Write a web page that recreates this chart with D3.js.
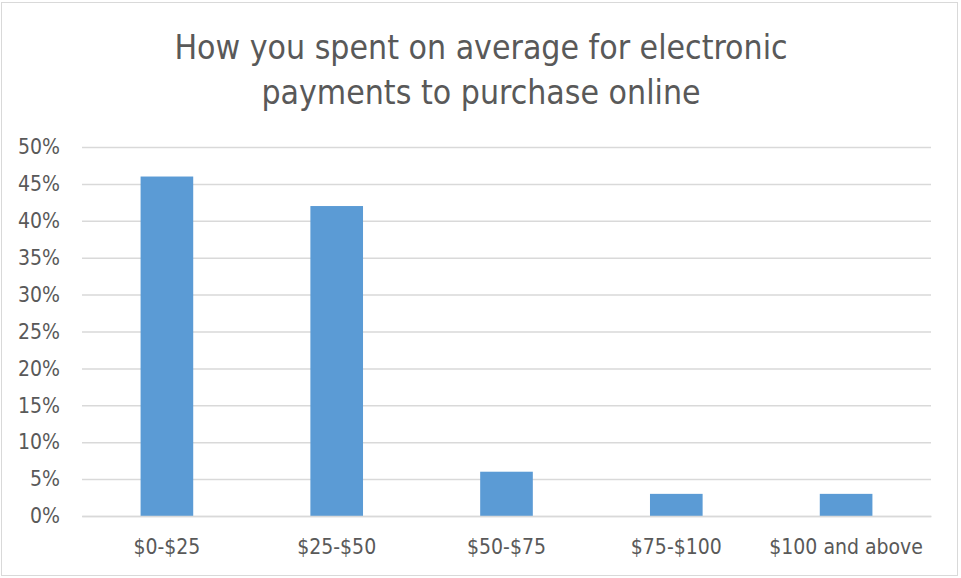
<!DOCTYPE html>
<meta charset="utf-8">
<style>
body { margin: 0; background: #fff; }
text { font-family: "DejaVu Sans Condensed", "Liberation Sans Narrow", sans-serif; fill: #595959; }
</style>
<body>
<svg width="961" height="578"></svg>
<script src="https://d3js.org/d3.v7.min.js"></script>
<script>
var categories = ["$0-$25", "$25-$50", "$50-$75", "$75-$100", "$100 and above"];
var shares = [0.46, 0.42, 0.06, 0.03, 0.03];
var yTicks = [0, 0.05, 0.1, 0.15, 0.2, 0.25, 0.3, 0.35, 0.4, 0.45, 0.5];
var titleLines = ["How you spent on average for electronic", "payments to purchase online"];

var svg = d3.select("svg"),
    margin = {top: 147, right: 30, bottom: 62, left: 82},
    width = +svg.attr("width") - margin.left - margin.right,
    height = +svg.attr("height") - margin.top - margin.bottom;

// chart border
svg.append("rect")
    .attr("x", 1.5).attr("y", 2.5)
    .attr("width", 956).attr("height", 573)
    .attr("fill", "none")
    .attr("stroke", "#d9d9d9");

svg.append("g").selectAll("text")
    .data(titleLines)
  .enter().append("text")
    .attr("x", 481)
    .attr("y", function(d, i) { return 59 + i * 45; })
    .attr("text-anchor", "middle")
    .attr("font-size", 33.5)
    .text(function(d) { return d; });

var g = svg.append("g").attr("transform", "translate(" + margin.left + "," + margin.top + ")");

var x = d3.scaleBand().domain(categories).range([0, width]).paddingInner(0.69).paddingOuter(0.345);
var y = d3.scaleLinear().domain([0, 0.5]).range([height, 0]);

g.append("g")
    .call(d3.axisLeft(y).tickValues(yTicks).tickSize(-width).tickFormat(d3.format(".0%")))
    .call(function(a) {
      a.select(".domain").remove();
      a.selectAll("line").attr("stroke", "#d9d9d9").attr("stroke-width", 1.5);
      a.selectAll("text").attr("x", -22).attr("font-size", 21).style("fill", "#595959");
    });

g.selectAll(".bar")
    .data(shares)
  .enter().append("rect")
    .attr("class", "bar")
    .attr("x", function(d, i) { return x(categories[i]); })
    .attr("y", function(d) { return y(d); })
    .attr("width", x.bandwidth())
    .attr("height", function(d) { return height - y(d); })
    .attr("fill", "#5b9bd5");

g.append("g")
    .attr("transform", "translate(0," + height + ")")
    .call(d3.axisBottom(x).tickSize(0).tickPadding(23))
    .call(function(a) {
      a.select(".domain").attr("stroke", "#d9d9d9").attr("stroke-width", 1.5);
      a.selectAll("text").attr("font-size", 21).style("fill", "#595959");
    });
</script>
</body>
